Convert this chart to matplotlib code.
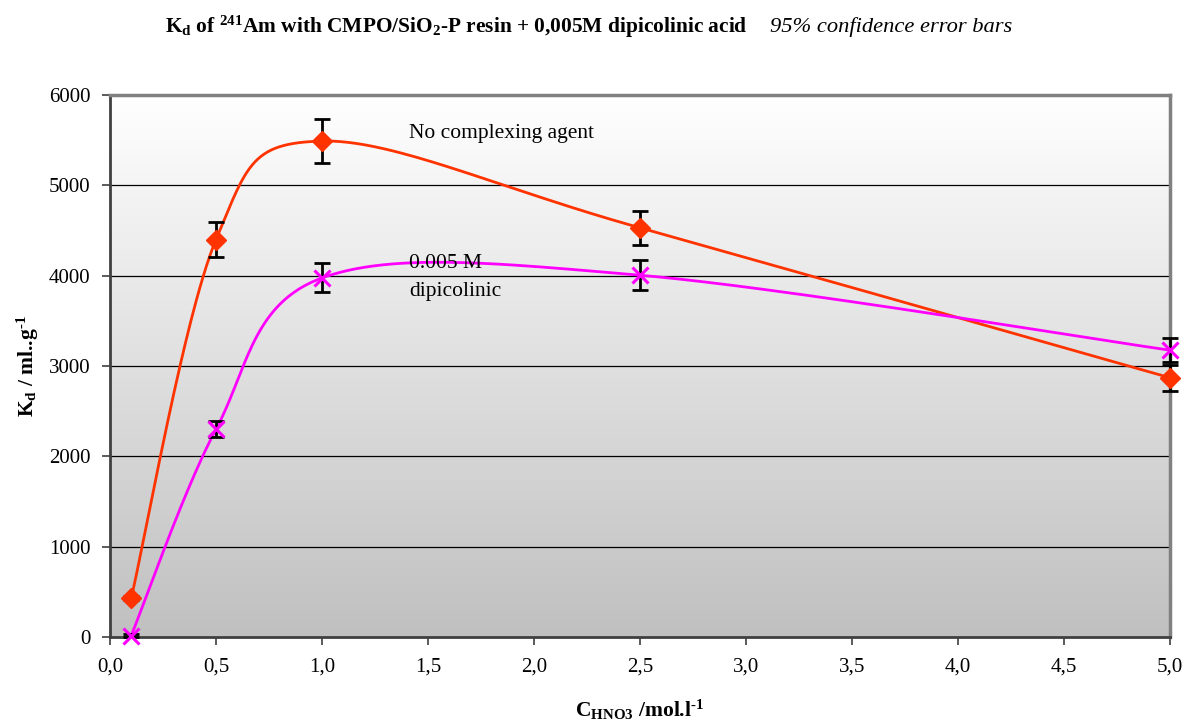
import numpy as np
import matplotlib
matplotlib.use("Agg")
import matplotlib.pyplot as plt
from matplotlib.colors import LinearSegmentedColormap

plt.rcParams["font.family"] = ["Liberation Serif", "DejaVu Serif"]
plt.rcParams["mathtext.fontset"] = "custom"
plt.rcParams["mathtext.rm"] = "Liberation Serif"
plt.rcParams["mathtext.bf"] = "Liberation Serif:bold"
plt.rcParams["mathtext.it"] = "Liberation Serif:italic"

# HNO3 concentration (mol/l)
c_hno3 = [0.1, 0.5, 1.0, 2.5, 5.0]

# Kd without complexing agent, with 95% confidence half-widths
kd_none = [430, 4400, 5490, 4530, 2870]
err_none = [25, 195, 240, 190, 145]

# Kd with 0.005 M dipicolinic acid
kd_dipic = [15, 2300, 3975, 4005, 3175]
err_dipic = [20, 90, 160, 165, 135]

x_ticks = [0.0, 0.5, 1.0, 1.5, 2.0, 2.5, 3.0, 3.5, 4.0, 4.5, 5.0]
y_ticks = [0, 1000, 2000, 3000, 4000, 5000, 6000]

RED = "#FF3300"
MAGENTA = "#FF00FF"


def smooth_curve(xs, ys, sx, sy, n=60):
    """Bezier smoothing through points, computed in screen-like units."""
    px = np.asarray(xs, float) * sx
    py = np.asarray(ys, float) * sy
    P = np.column_stack([px, py])
    m = len(P)
    out = []
    for i in range(m - 1):
        p0 = P[i - 1] if i > 0 else P[i]
        p1 = P[i]
        p2 = P[i + 1]
        p3 = P[i + 2] if i + 2 < m else P[i + 1]
        c1 = p1 + (p2 - p0) / 6.0
        c2 = p2 - (p3 - p1) / 6.0
        t = np.linspace(0, 1, n)[:, None]
        seg = ((1 - t) ** 3) * p1 + 3 * ((1 - t) ** 2) * t * c1 \
            + 3 * (1 - t) * t ** 2 * c2 + t ** 3 * p2
        out.append(seg if i == 0 else seg[1:])
    pts = np.vstack(out)
    return pts[:, 0] / sx, pts[:, 1] / sy


W, H = 1187, 724
fig = plt.figure(figsize=(W / 100, H / 100), dpi=100)
ax = fig.add_axes([110 / W, 1 - 637 / H, 1060 / W, 542 / H])

ax.set_xlim(0, 5)
ax.set_ylim(0, 6000)

# vertical gradient background
cmap = LinearSegmentedColormap.from_list("bg", ["#C0C0C0", "#FFFFFF"])
grad = np.linspace(0, 1, 256)[:, None]
ax.imshow(grad, extent=[0, 5, 0, 6000], origin="lower", aspect="auto",
          cmap=cmap, zorder=0, interpolation="bicubic")

for yv in y_ticks[1:-1]:
    ax.axhline(yv, color="black", lw=0.9, zorder=1)

sx = 1060 / 5.0
sy = 542 / 6000.0
cx, cy = smooth_curve(c_hno3, kd_none, sx, sy)
ax.plot(cx, cy, color=RED, lw=2, zorder=3)
cx, cy = smooth_curve(c_hno3, kd_dipic, sx, sy)
ax.plot(cx, cy, color=MAGENTA, lw=2, zorder=3)

ax.errorbar(c_hno3, kd_none, yerr=err_none, fmt="none", ecolor="black",
            elinewidth=2, capsize=6, capthick=2, zorder=4, clip_on=False)
ax.errorbar(c_hno3, kd_dipic, yerr=err_dipic, fmt="none", ecolor="black",
            elinewidth=2, capsize=6, capthick=2, zorder=4, clip_on=False)

ax.plot(c_hno3, kd_none, linestyle="none", marker="D", markersize=10,
        color=RED, zorder=5, clip_on=False)
ax.plot(c_hno3, kd_dipic, linestyle="none", marker="x", markersize=11,
        markeredgewidth=2.2, color=MAGENTA, zorder=5, clip_on=False)

ax.set_xticks(x_ticks)
ax.set_xticklabels([f"{v:.1f}".replace(".", ",") for v in x_ticks])
ax.set_yticks(y_ticks)
ax.set_yticklabels([str(v) for v in y_ticks])
ax.tick_params(axis="both", labelsize=15, direction="out", length=6,
               width=1.2, color="#404040")
ax.tick_params(axis="y", pad=8)
ax.tick_params(axis="x", pad=9)

for side in ("left", "bottom"):
    ax.spines[side].set_color("#404040")
    ax.spines[side].set_linewidth(2)
ax.spines["right"].set_color("#808080")
ax.spines["right"].set_linewidth(2.5)
ax.spines["top"].set_color("#808080")
ax.spines["top"].set_linewidth(2.5)

ax.text(1.41, 5570, "No complexing agent", fontsize=15.5, ha="left",
        va="center", zorder=6)
ax.text(1.41, 4140, "0.005 M", fontsize=15.5, ha="left",
        va="center", zorder=6)
ax.text(1.41, 3820, "dipicolinic", fontsize=15.5, ha="left",
        va="center", zorder=6)

ax.set_xlabel(r"C$_{\mathbf{HNO3}}$ /mol.l$^{\mathbf{\text{-}1}}$", fontsize=15.5,
              fontweight="bold", labelpad=15)
ax.set_ylabel(r"K$_{\mathbf{d}}$ / ml..g$^{\mathbf{\text{-}1}}$", fontsize=15.5,
              fontweight="bold", labelpad=6)

fig.text(165 / W, 1 - 27 / H,
         r"K$_{\mathbf{d}}$ of $^{\mathbf{241}}$Am with CMPO/SiO$_{\mathbf{2}}$-P resin + 0,005M dipicolinic acid",
         fontsize=15.4, fontweight="bold", ha="left", va="center")
fig.text(770 / W, 1 - 27 / H, "95% confidence error bars", fontsize=16.2,
         style="italic", ha="left", va="center")

fig.savefig("out.png", dpi=100)
